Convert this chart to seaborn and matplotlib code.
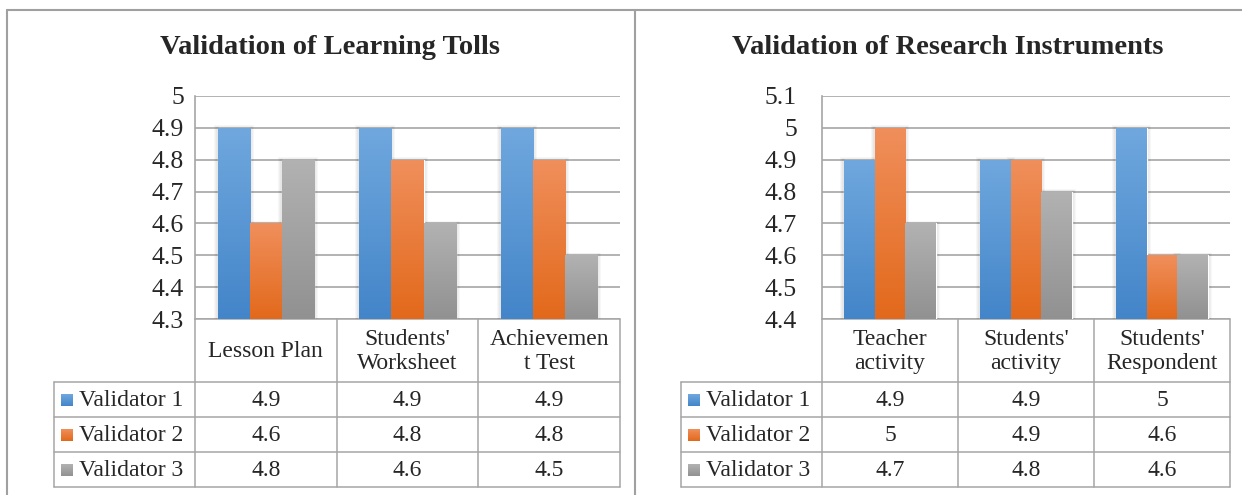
import numpy as np
import pandas as pd
import matplotlib
matplotlib.use("Agg")
import matplotlib.pyplot as plt
import seaborn as sns
from matplotlib.colors import LinearSegmentedColormap
from matplotlib.patches import Rectangle

# ------------------------------------------------------------
# Data
# ------------------------------------------------------------
validators = ["Validator 1", "Validator 2", "Validator 3"]

tools_title = "Validation of Learning Tolls"
tools_categories = ["Lesson Plan", "Students'\nWorksheet", "Achievemen\nt Test"]
tools_v1 = [4.9, 4.9, 4.9]
tools_v2 = [4.6, 4.8, 4.8]
tools_v3 = [4.8, 4.6, 4.5]
tools_ticks = [4.3, 4.4, 4.5, 4.6, 4.7, 4.8, 4.9, 5.0]

instr_title = "Validation of Research Instruments"
instr_categories = ["Teacher\nactivity", "Students'\nactivity", "Students'\nRespondent"]
instr_v1 = [4.9, 4.9, 5.0]
instr_v2 = [5.0, 4.9, 4.6]
instr_v3 = [4.7, 4.8, 4.6]
instr_ticks = [4.4, 4.5, 4.6, 4.7, 4.8, 4.9, 5.0, 5.1]

# couleurs (milieu, haut, bas du dégradé)
mid_colors = ["#5B9BD5", "#ED7D31", "#A5A5A5"]
top_colors = ["#70A8DE", "#F08F5C", "#B2B2B2"]
bottom_colors = ["#4385C9", "#E2691B", "#919191"]
line_gray = "#A6A6A6"

# ------------------------------------------------------------
# Figure
# ------------------------------------------------------------
sns.set_style("white")
plt.rcParams["font.family"] = ["Liberation Serif", "DejaVu Serif"]

W, H = 1242, 495
fig = plt.figure(figsize=(W / 100, H / 100), dpi=100)
fig.patch.set_facecolor("white")

# calque en pixels pour le cadre et les tableaux de données
ov = fig.add_axes([0, 0, 1, 1])
ov.set_xlim(0, W)
ov.set_ylim(H, 0)
ov.axis("off")

# cadre extérieur
ov.plot([7, W], [10, 10], color="#A0A0A0", lw=1.5)
ov.plot([7, 7], [10, H], color="#A0A0A0", lw=1.5)
ov.plot([635, 635], [10, H], color="#A0A0A0", lw=1.5)

plot_top, plot_bottom = 96, 319
row_lines = [382, 417, 452, 487]


def draw_chart(title, categories, values, ticks, legend_left, plot_left, plot_right,
               title_x, tick_pad):
    df = pd.DataFrame({
        "category": np.tile(categories, len(validators)),
        "validator": np.repeat(validators, len(categories)),
        "score": np.concatenate(values),
    })

    ax = fig.add_axes([plot_left / W, 1 - plot_bottom / H,
                       (plot_right - plot_left) / W, (plot_bottom - plot_top) / H])
    ax.set_facecolor("none")
    sns.barplot(data=df, x="category", y="score", hue="validator",
                order=categories, hue_order=validators, palette=mid_colors,
                width=0.68, saturation=1, legend=False, ax=ax, zorder=3)

    ymin, ymax = ticks[0], ticks[-1]
    ax.set_ylim(ymin, ymax)
    ax.set_xlim(-0.5, len(categories) - 0.5)
    ax.set_yticks(ticks)
    ax.set_yticklabels([f"{t:g}" for t in ticks], fontsize=18.5)
    ax.tick_params(axis="y", length=0, pad=tick_pad)
    ax.set_xticks([])
    ax.set_xlabel("")
    ax.set_ylabel("")
    ax.yaxis.grid(True, color=line_gray, lw=1.2)
    ax.set_axisbelow(True)
    for s in ["top", "right", "bottom"]:
        ax.spines[s].set_visible(False)
    ax.spines["left"].set_color(line_gray)
    ax.spines["left"].set_linewidth(1.2)

    # dégradé + ombre légère, façon Excel
    dx = len(categories) / (plot_right - plot_left)
    dy = (ymax - ymin) / (plot_bottom - plot_top)
    grad = np.linspace(0, 1, 256).reshape(-1, 1)
    for i, cont in enumerate(ax.containers):
        cmap = LinearSegmentedColormap.from_list("g", [bottom_colors[i], top_colors[i]])
        for bar in cont:
            x0, w, h = bar.get_x(), bar.get_width(), bar.get_height()
            for k in range(1, 5):
                ax.add_patch(Rectangle((x0 - k * dx, ymin), w + 2 * k * dx,
                                       h - ymin + k * dy * 0.6, facecolor="black",
                                       alpha=0.03, lw=0, zorder=2))
            im = ax.imshow(grad, extent=[x0, x0 + w, ymin, h], origin="lower",
                           aspect="auto", cmap=cmap, zorder=4)
            im.set_clip_path(bar)
    ax.set_xlim(-0.5, len(categories) - 0.5)
    ax.set_ylim(ymin, ymax)

    # titre
    fig.text(title_x / W, 1 - 48 / H, title, ha="center", va="center",
             fontsize=20.5, fontweight="bold")

    # tableau de données
    n = len(categories)
    col_w = (plot_right - plot_left) / n
    edges = [plot_left + j * col_w for j in range(n + 1)]
    for xe in edges:
        ov.plot([xe, xe], [plot_bottom, row_lines[-1]], color=line_gray, lw=1.1)
    ov.plot([legend_left, legend_left], [row_lines[0], row_lines[-1]], color=line_gray, lw=1.1)
    ov.plot([plot_left, plot_right], [plot_bottom, plot_bottom], color=line_gray, lw=1.1)
    for yl in row_lines:
        ov.plot([legend_left, plot_right], [yl, yl], color=line_gray, lw=1.1)

    for j, cat in enumerate(categories):
        ov.text(edges[j] + col_w / 2, (plot_bottom + row_lines[0]) / 2 + 1, cat,
                ha="center", va="center", fontsize=17, linespacing=1.15)

    for i, name in enumerate(validators):
        yc = (row_lines[i] + row_lines[i + 1]) / 2
        sq = Rectangle((legend_left + 7, yc - 5.5), 12, 12, facecolor="none", lw=0)
        ov.add_patch(sq)
        cmap = LinearSegmentedColormap.from_list("g", [bottom_colors[i], top_colors[i]])
        im = ov.imshow(grad, extent=[legend_left + 7, legend_left + 19, yc + 6.5, yc - 5.5],
                       origin="lower", aspect="auto", cmap=cmap, zorder=2)
        im.set_clip_path(sq)
        ov.text(legend_left + 25, yc + 1, name, ha="left", va="center", fontsize=17)
        for j in range(n):
            ov.text(edges[j] + col_w / 2, yc + 1, f"{values[i][j]:g}",
                    ha="center", va="center", fontsize=17)
    ov.set_xlim(0, W)
    ov.set_ylim(H, 0)


draw_chart(tools_title, tools_categories, [tools_v1, tools_v2, tools_v3], tools_ticks,
           legend_left=54, plot_left=195, plot_right=620, title_x=330, tick_pad=8)
draw_chart(instr_title, instr_categories, [instr_v1, instr_v2, instr_v3], instr_ticks,
           legend_left=681, plot_left=822, plot_right=1230, title_x=948, tick_pad=18)

fig.savefig("out.png", dpi=100)
